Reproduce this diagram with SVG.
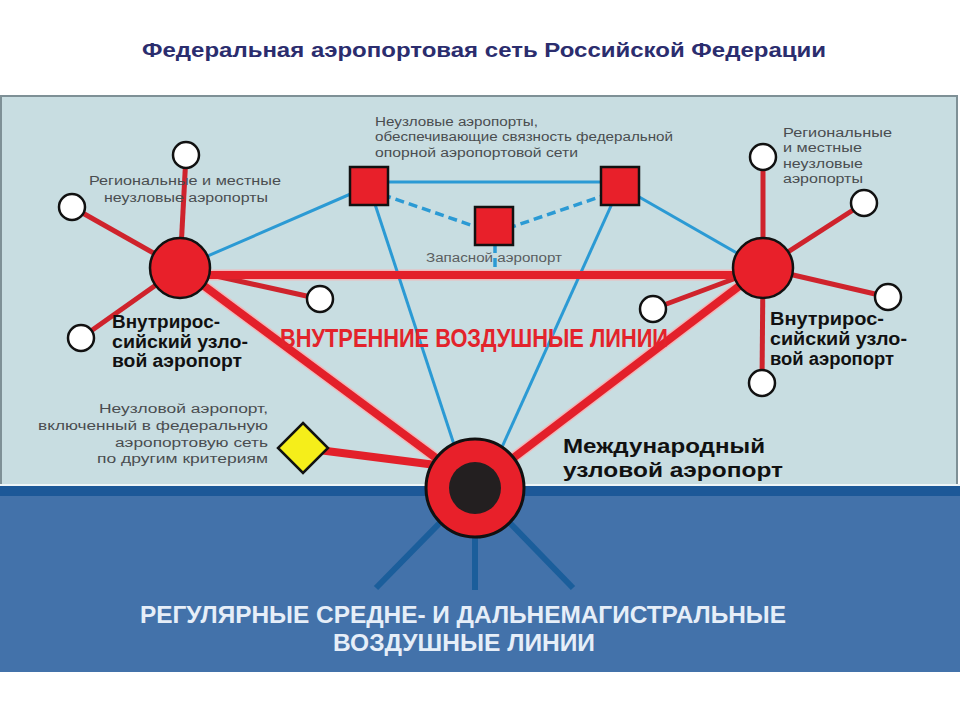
<svg xmlns="http://www.w3.org/2000/svg" width="960" height="720" viewBox="0 0 960 720">
<defs>
<style>
.title{font-family:"Liberation Sans",Arial,sans-serif;font-weight:bold;font-size:19.5px;fill:#2b2d6e}
.small{font-family:"Liberation Sans",Arial,sans-serif;font-size:12.5px;fill:#4a4d50}
.hub{font-family:"Liberation Sans",Arial,sans-serif;font-weight:bold;font-size:17.5px;fill:#111}
.big{font-family:"Liberation Sans",Arial,sans-serif;font-weight:bold;font-size:20px;fill:#111}
.redt{font-family:"Liberation Sans",Arial,sans-serif;font-weight:bold;font-size:25px;fill:#e3232b}
.bot{font-family:"Liberation Sans",Arial,sans-serif;font-weight:bold;font-size:23px;fill:#e6eef8}
.thick{stroke:#e3202a;stroke-width:8;fill:none}
.thin{stroke:#cf232c;stroke-width:5;fill:none}
.halo{stroke:#f0b9bb;fill:none}
.blue{stroke:#2b9ad4;stroke-width:3;fill:none}
.dash{stroke:#2b9ad4;stroke-width:3.5;fill:none;stroke-dasharray:9 5}
.navy{stroke:#1b5e9b;stroke-width:6;fill:none}
.sm{fill:#fff;stroke:#111;stroke-width:2.5}
.hubc{fill:#e8202a;stroke:#111;stroke-width:2.5}
.sq{fill:#e8202a;stroke:#111;stroke-width:2.5}
</style>
</defs>
<rect x="0" y="0" width="960" height="720" fill="#fff"/>
<!-- panels -->
<rect x="1" y="96" width="956" height="392" fill="#c8dde1" stroke="#7e9096" stroke-width="2"/>
<rect x="0" y="484" width="960" height="2" fill="#eef5f7"/>
<rect x="0" y="486" width="960" height="186" fill="#4372aa"/>
<rect x="0" y="486" width="960" height="10" fill="#1c5898"/>
<text class="title" x="142" y="57" textLength="684" lengthAdjust="spacingAndGlyphs">Федеральная аэропортовая сеть Российской Федерации</text>

<g id="connectors">
<!-- halos -->
<g class="halo">
<line x1="180" y1="275" x2="763" y2="275" stroke-width="11"/>
<line x1="180" y1="268" x2="475" y2="487" stroke-width="11"/>
<line x1="763" y1="268" x2="475" y2="487" stroke-width="11"/>
</g>
<!-- blue lines -->
<line class="blue" x1="180" y1="268" x2="369" y2="186"/>
<line class="blue" x1="369" y1="182" x2="620" y2="182"/>
<line class="blue" x1="620" y1="186" x2="763" y2="268"/>
<line class="blue" x1="369" y1="186" x2="468" y2="487"/>
<line class="blue" x1="620" y1="186" x2="484" y2="487"/>
<line class="dash" x1="369" y1="190" x2="494" y2="233"/>
<line class="dash" x1="494" y1="233" x2="620" y2="190"/>
<line class="dash" x1="495" y1="244" x2="495" y2="272" stroke-dasharray="4 3"/>
<!-- red thin spokes -->
<line class="thin" x1="180" y1="268" x2="186" y2="155"/>
<line class="thin" x1="180" y1="268" x2="72" y2="207"/>
<line class="thin" x1="180" y1="268" x2="320" y2="299"/>
<line class="thin" x1="180" y1="268" x2="81" y2="338"/>
<line class="thin" x1="763" y1="268" x2="763" y2="157"/>
<line class="thin" x1="763" y1="268" x2="864" y2="203"/>
<line class="thin" x1="763" y1="268" x2="888" y2="297"/>
<line class="thin" x1="763" y1="268" x2="653" y2="309"/>
<line class="thin" x1="763" y1="268" x2="762" y2="383"/>
<!-- thick red -->
<line class="thick" x1="180" y1="275" x2="763" y2="275"/>
<line class="thick" x1="180" y1="268" x2="475" y2="487"/>
<line class="thick" x1="763" y1="268" x2="475" y2="487"/>
<line class="thick" x1="303" y1="448" x2="475" y2="470" stroke-width="7"/>
<!-- navy spokes -->
<line class="navy" x1="475" y1="487" x2="376" y2="588"/>
<line class="navy" x1="475" y1="487" x2="475" y2="590"/>
<line class="navy" x1="475" y1="487" x2="573" y2="588"/>
</g>

<g id="left-regional">
<circle class="sm" cx="186" cy="155" r="13"/>
<circle class="sm" cx="72" cy="207" r="13"/>
<circle class="sm" cx="320" cy="299" r="13"/>
<circle class="sm" cx="81" cy="338" r="13"/>
<text class="small" x="185" y="185" text-anchor="middle" textLength="192" lengthAdjust="spacingAndGlyphs">Региональные и местные</text>
<text class="small" x="186" y="202" text-anchor="middle" textLength="164" lengthAdjust="spacingAndGlyphs">неузловые аэропорты</text>
</g>
<g id="right-regional">
<circle class="sm" cx="763" cy="157" r="13"/>
<circle class="sm" cx="864" cy="203" r="13"/>
<circle class="sm" cx="888" cy="297" r="13"/>
<circle class="sm" cx="653" cy="309" r="13"/>
<circle class="sm" cx="762" cy="383" r="13"/>
<text class="small" x="783" y="137" textLength="109" lengthAdjust="spacingAndGlyphs">Региональные</text>
<text class="small" x="783" y="152" textLength="79" lengthAdjust="spacingAndGlyphs">и местные</text>
<text class="small" x="783" y="168" textLength="80" lengthAdjust="spacingAndGlyphs">неузловые</text>
<text class="small" x="783" y="183" textLength="80" lengthAdjust="spacingAndGlyphs">аэропорты</text>
</g>

<g id="left-hub">
<circle class="hubc" cx="180" cy="268" r="30"/>
<text class="hub" x="112" y="328" textLength="108" lengthAdjust="spacingAndGlyphs">Внутрирос-</text>
<text class="hub" x="112" y="348" textLength="136" lengthAdjust="spacingAndGlyphs">сийский узло-</text>
<text class="hub" x="112" y="367" textLength="130" lengthAdjust="spacingAndGlyphs">вой аэропорт</text>
</g>
<g id="right-hub">
<circle class="hubc" cx="763" cy="268" r="30"/>
<text class="hub" x="770" y="325" textLength="114" lengthAdjust="spacingAndGlyphs">Внутрирос-</text>
<text class="hub" x="770" y="345" textLength="137" lengthAdjust="spacingAndGlyphs">сийский узло-</text>
<text class="hub" x="770" y="365" textLength="124" lengthAdjust="spacingAndGlyphs">вой аэропорт</text>
</g>

<g id="link-airports">
<rect class="sq" x="350" y="167" width="38" height="38"/>
<rect class="sq" x="601" y="167" width="38" height="38"/>
<text class="small" x="375" y="126" fill="#5a5d60" textLength="163" lengthAdjust="spacingAndGlyphs">Неузловые аэропорты,</text>
<text class="small" x="375" y="141" textLength="298" lengthAdjust="spacingAndGlyphs">обеспечивающие связность федеральной</text>
<text class="small" x="375" y="157" textLength="203" lengthAdjust="spacingAndGlyphs">опорной  аэропортовой сети</text>
</g>
<g id="reserve">
<rect class="sq" x="475" y="207" width="38" height="38"/>
<text class="small" x="494" y="262" text-anchor="middle" textLength="136" lengthAdjust="spacingAndGlyphs" style="fill:#5a5d60">Запасной аэропорт</text>
</g>

<g id="other-airport">
<polygon points="303,423 328,448 303,473 278,448" fill="#f5ee1a" stroke="#111" stroke-width="2.5"/>
<text class="small" x="268" y="413" text-anchor="end" textLength="169" lengthAdjust="spacingAndGlyphs">Неузловой аэропорт,</text>
<text class="small" x="268" y="430" text-anchor="end" textLength="230" lengthAdjust="spacingAndGlyphs">включенный в федеральную</text>
<text class="small" x="268" y="447" text-anchor="end" textLength="153" lengthAdjust="spacingAndGlyphs">аэропортовую сеть</text>
<text class="small" x="268" y="463" text-anchor="end" textLength="171" lengthAdjust="spacingAndGlyphs">по другим критериям</text>
</g>

<g id="intl-hub">
<circle cx="475" cy="488" r="49" fill="#e8202a" stroke="#111" stroke-width="3"/>
<circle cx="475" cy="488" r="26" fill="#231f20"/>
<text class="big" x="563" y="453" textLength="202" lengthAdjust="spacingAndGlyphs">Международный</text>
<text class="big" x="563" y="477" textLength="220" lengthAdjust="spacingAndGlyphs">узловой аэропорт</text>
</g>

<text class="redt" x="474" y="347" text-anchor="middle" textLength="388" lengthAdjust="spacingAndGlyphs">ВНУТРЕННИЕ ВОЗДУШНЫЕ ЛИНИИ</text>
<text class="bot" x="463" y="623" text-anchor="middle" textLength="646" lengthAdjust="spacingAndGlyphs">РЕГУЛЯРНЫЕ СРЕДНЕ- И ДАЛЬНЕМАГИСТРАЛЬНЫЕ</text>
<text class="bot" x="464" y="651" text-anchor="middle" textLength="262" lengthAdjust="spacingAndGlyphs">ВОЗДУШНЫЕ ЛИНИИ</text>
</svg>
